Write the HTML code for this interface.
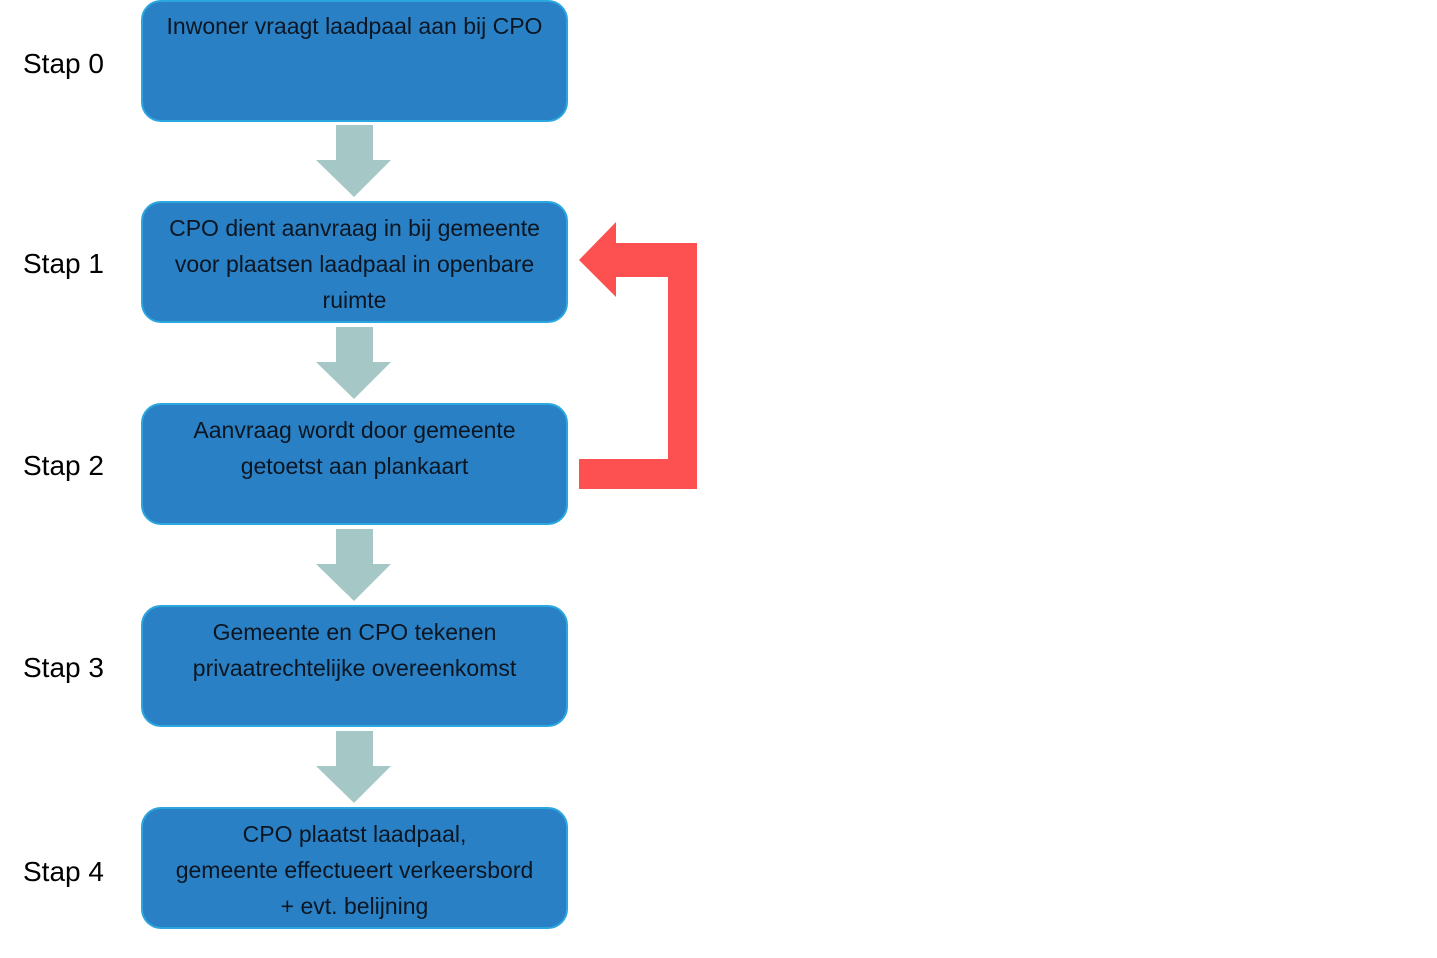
<!DOCTYPE html>
<html><head><style>
body{margin:0;width:1437px;height:958px;background:#fff;position:relative;overflow:hidden;font-family:"Liberation Sans",sans-serif}
.b{position:absolute;left:141px;width:423px;height:118px;background:#2a80c5;border:2px solid #2ba6df;border-radius:20px;color:#0b1622;font-size:23px;text-align:center;line-height:36px;box-sizing:content-box}
.b div{padding-top:7px}
.s{position:absolute;left:23px;font-size:28px;color:#000}
</style></head><body>
<div class="b" style="top:0"><div style="padding-top:6px">Inwoner vraagt laadpaal aan bij CPO</div></div>
<div class="b" style="top:201px"><div>CPO dient aanvraag in bij gemeente<br>voor plaatsen laadpaal in openbare<br>ruimte</div></div>
<div class="b" style="top:403px"><div>Aanvraag wordt door gemeente<br>getoetst aan plankaart</div></div>
<div class="b" style="top:605px"><div>Gemeente en CPO tekenen<br>privaatrechtelijke overeenkomst</div></div>
<div class="b" style="top:807px"><div>CPO plaatst laadpaal,<br>gemeente effectueert verkeersbord<br>+ evt. belijning</div></div>
<div class="s" style="top:48px">Stap 0</div>
<div class="s" style="top:248px">Stap 1</div>
<div class="s" style="top:450px">Stap 2</div>
<div class="s" style="top:652px">Stap 3</div>
<div class="s" style="top:856px">Stap 4</div>
<svg width="1437" height="958" style="position:absolute;left:0;top:0">
<g fill="#a5c8c6">
<polygon points="336,125 373,125 373,160 391,160 354,197 316,160 336,160"/>
<polygon points="336,327 373,327 373,362 391,362 354,399 316,362 336,362"/>
<polygon points="336,529 373,529 373,564 391,564 354,601 316,564 336,564"/>
<polygon points="336,731 373,731 373,766 391,766 354,803 316,766 336,766"/>
</g>
<polygon fill="#fd5050" points="579,260 616,222 616,243 697,243 697,489 579,489 579,459 668,459 668,277 616,277 616,297"/>
</svg>
</body></html>
